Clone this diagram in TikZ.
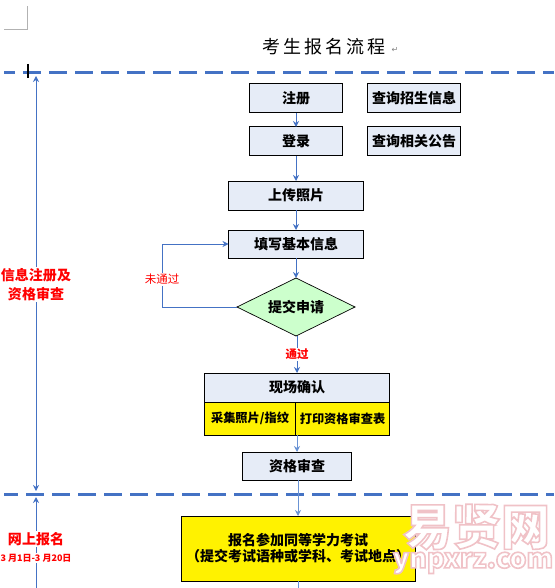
\documentclass[tikz,border=0pt]{standalone}
\usepackage{fontspec}
\setmainfont{Noto Sans CJK SC}
\newfontfamily\arrowfont{DejaVu Sans}
\usetikzlibrary{positioning, arrows.meta, shapes.geometric, calc}
\definecolor{flowblue}{HTML}{4472C4}
\definecolor{flowlight}{HTML}{6A93D4}
\definecolor{boxblue}{HTML}{E6ECF7}
\definecolor{passgreen}{HTML}{CCFFCC}
\newcommand{\outlinetext}[1]{\special{pdf:code q 2 Tr 1.6 w 0.94 0.76 0.78 RG}#1\special{pdf:code Q}}
\tikzset{
  flowbox/.style={draw=black, line width=1pt, outer sep=0pt, fill=boxblue, inner sep=0pt, minimum height=29pt, font=\fontsize{14}{16}\selectfont\bfseries},
  yellowbox/.style={flowbox, fill=yellow, minimum height=33pt, font=\fontsize{12.2}{15}\selectfont\bfseries},
  redlabel/.style={text=red, fill=white, inner sep=1pt, align=center, font=\fontsize{14}{19}\selectfont\bfseries},
  marktext/.style={text=white, inner sep=0pt},
  flowline/.style={->, flowblue, line width=.9pt},
  lightline/.style={->, flowlight, line width=.9pt},
  sectionline/.style={flowblue, line width=3pt, dash pattern=on 18pt off 8pt},
  rangeline/.style={flowblue, line width=.9pt}
}
\begin{document}
\begin{tikzpicture}[x=1pt, y=-1pt, >={Stealth[length=6pt,width=6pt]}]
  \useasboundingbox (0,0) rectangle (554,588);

  % page marks
  \draw[gray!60, line width=.8pt] (4,29) -- (27,29) -- (27,6);

  \coordinate (lineaw) at (4,73);
  \coordinate (lineae) at (554,73);
  \coordinate (linebw) at (4,494);
  \coordinate (linebe) at (554,494);
  \draw[sectionline, dash phase=7pt] (lineaw) -- (lineae);
  \draw[sectionline, dash phase=4pt] (linebw) -- (linebe);
  \draw[black, line width=1.5pt] (28,64) -- (28,78);

  \node[font=\fontsize{18}{20}\selectfont\addfontfeature{LetterSpace=17}, anchor=west] (title) at (259,47) {考生报名流程};
  \node[font=\arrowfont\fontsize{8}{10}\selectfont, text=gray, inner sep=0pt] (retmark) at (395,50) {↵};

  % flow
  \node[flowbox, minimum width=93pt] (register) at (296,98.5) {注册};
  \node[flowbox, minimum width=93pt, below=14pt of register] (login) {登录};
  \node[flowbox, minimum width=93pt, right=25pt of register] (queryinfo) {查询招生信息};
  \node[flowbox, minimum width=93pt, right=25pt of login] (querynews) {查询相关公告};
  \node[flowbox, minimum width=135pt, below=25pt of login] (photo) {上传照片};
  \node[flowbox, minimum width=135pt, minimum height=28pt, below=20pt of photo] (basic) {填写基本信息};
  \node[diamond, aspect=2, draw=black, line width=.7pt, outer sep=0pt, fill=passgreen, inner sep=0pt, minimum width=118pt, minimum height=58pt, below=20pt of basic, font=\fontsize{14}{16}\selectfont\bfseries] (submit) {提交申请};
  \node[flowbox, minimum width=185pt, below=37pt of submit, xshift=1pt] (confirm) {现场确认};
  \node[yellowbox, minimum width=91pt, anchor=north west] (collect) at (confirm.south west) {采集照片/指纹};
  \node[yellowbox, minimum width=94pt, right=0pt of collect] (printform) {打印资格审查表};
  \node[flowbox, minimum width=109pt, minimum height=28pt, below=17pt of collect.south east, xshift=1.5pt] (audit) {资格审查};
  \node[flowbox, fill=yellow, align=center, minimum width=234pt, minimum height=65pt, below=36pt of audit, xshift=1pt] (apply) {\fontsize{14}{19}\selectfont 报名参加同等学力考试\\\fontsize{14}{19}\selectfont （提交考试语种或学科、考试地点）};

  % side labels
  \coordinate (rangetop) at (36,76);
  \coordinate (rangemid) at (36,491);
  \coordinate (rangelow) at (36,497);
  \coordinate (rangeend) at (36,588);
  \draw[rangeline, <->] (rangetop) -- (rangemid);
  \draw[rangeline, <-] (rangelow) -- (rangeend);
  \node[redlabel] (stagea) at (36,284.5) {信息注册及\\资格审查};
  \node[redlabel] (stageb) at (36,539) {网上报名};
  \node[redlabel, font=\fontsize{9}{11}\selectfont\bfseries] (stagebdate) at (36,558) {3 月1日-3 月20日};

  % connectors
  \draw[flowline] (register) -- (login);
  \draw[flowline] (login) -- (login |- photo.north);
  \draw[flowline] (photo.south -| basic) -- (basic);
  \draw[flowline] (basic) -- (submit);
  \draw[flowline] (submit.south -| confirm) -- node[redlabel, font=\fontsize{11.5}{13}\selectfont\bfseries] (passlabel) {通过} (confirm);
  \draw[lightline] (confirm.south |- collect.south) -- (audit.north -| confirm);
  \draw[lightline] (audit) -- (audit.south -| apply.north) -- (apply);
  \coordinate (retrycorner) at (162,244);
  \draw[flowline] (submit.west) -- (submit.west -| retrycorner) -- node[fill=white, text=red, inner sep=1pt, font=\fontsize{11.5}{13}\selectfont, pos=.44] (faillabel) {未通过} (retrycorner) -- (basic.west);
  \coordinate (applyout) at (apply.south |- rangeend);
  \draw[lightline, -] (apply) -- (applyout);

  % watermark
  \node[marktext, font=\fontsize{49}{49}\selectfont\bfseries] (marksite) at (476.5,527) {\outlinetext{易贤网}};
  \node[marktext, font=\fontsize{27}{27}\selectfont\bfseries] (markurl) at (473,563) {\outlinetext{ynpxrz.com}};
\end{tikzpicture}
\end{document}
